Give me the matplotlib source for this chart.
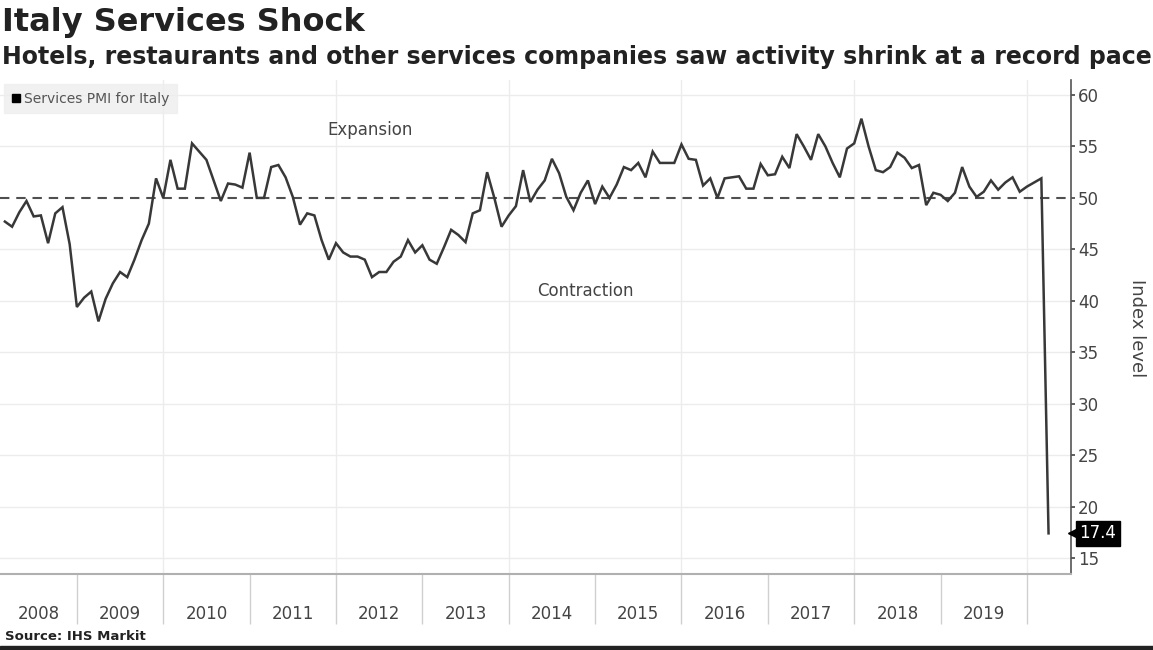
import matplotlib
matplotlib.use("Agg")
import matplotlib.pyplot as plt
from matplotlib.lines import Line2D
from matplotlib.patches import Rectangle
import matplotlib.transforms as mtransforms
import numpy as np

# ---------------- data ----------------
start_year = 2008
start_month = 2  # first observation: Feb 2008
pmi_values = [
    # 2008 (Feb-Dec)
    47.7, 47.2, 48.6, 49.7, 48.2, 48.3, 45.6, 48.5, 49.1, 45.5, 39.4,
    # 2009
    40.3, 40.9, 38.0, 40.2, 41.7, 42.8, 42.3, 44.0, 45.9, 47.5, 51.9, 50.0,
    # 2010
    53.7, 50.9, 50.9, 55.3, 54.5, 53.7, 51.7, 49.7, 51.4, 51.3, 51.0, 54.4,
    # 2011
    50.0, 50.0, 53.0, 53.2, 52.0, 50.1, 47.4, 48.5, 48.3, 45.9, 44.0, 45.6,
    # 2012
    44.7, 44.3, 44.3, 44.0, 42.3, 42.8, 42.8, 43.8, 44.3, 45.9, 44.7, 45.4,
    # 2013
    44.0, 43.6, 45.2, 46.9, 46.4, 45.7, 48.5, 48.8, 52.5, 50.0, 47.2, 48.3,
    # 2014
    49.2, 52.7, 49.6, 50.8, 51.7, 53.8, 52.4, 50.1, 48.8, 50.5, 51.7, 49.4,
    # 2015
    51.1, 50.0, 51.3, 53.0, 52.7, 53.4, 52.0, 54.5, 53.4, 53.4, 53.4, 55.2,
    # 2016
    53.8, 53.7, 51.2, 51.9, 50.0, 51.9, 52.0, 52.1, 50.9, 50.9, 53.3, 52.2,
    # 2017
    52.3, 54.0, 52.9, 56.2, 55.0, 53.7, 56.2, 55.0, 53.4, 52.0, 54.8, 55.3,
    # 2018
    57.7, 55.0, 52.7, 52.5, 53.0, 54.4, 53.9, 52.9, 53.2, 49.3, 50.5, 50.3,
    # 2019
    49.7, 50.5, 53.0, 51.1, 50.1, 50.6, 51.7, 50.8, 51.5, 52.0, 50.6, 51.1,
    # 2020 (Jan-Mar)
    51.5, 51.9, 17.4,
]
year_labels = ["2008", "2009", "2010", "2011", "2012", "2013",
               "2014", "2015", "2016", "2017", "2018", "2019"]
y_ticks = [15, 20, 25, 30, 35, 40, 45, 50, 55, 60]
grid_ticks = [15, 20, 25, 30, 35, 40, 45, 55, 60]
threshold = 50
last_label = "17.4"

# month-end positions in decimal years
n = len(pmi_values)
x = np.array([start_year + (start_month + i) / 12.0 for i in range(n)])

# ---------------- figure ----------------
W, H = 1153, 650
fig = plt.figure(figsize=(W / 100, H / 100), dpi=100)
fig.patch.set_facecolor("white")

ax_left, ax_right, ax_top, ax_bottom = 0, 1071, 80, 574
ax = fig.add_axes([ax_left / W, 1 - ax_bottom / H,
                   (ax_right - ax_left) / W, (ax_bottom - ax_top) / H])

x0, x1 = 2008.11, 2020.51
ax.set_xlim(x0, x1)
ax.set_ylim(13.45, 61.46)

# grid (no grid line under the dashed threshold)
ax.set_yticks(y_ticks)
for gy in grid_ticks:
    ax.axhline(gy, color="#ececec", lw=1.0, zorder=0)
for yr in range(2010, 2021, 2):
    ax.axvline(yr, color="#ececec", lw=1.0, zorder=0)

# threshold dashed line
ax.axhline(threshold, color="#4f4f4f", lw=1.5, dashes=(4.5, 3.3), zorder=1)

# series
ax.plot(x, pmi_values, color="#383838", lw=1.8, zorder=3,
        solid_joinstyle="miter")

# spines
for s in ["left", "top"]:
    ax.spines[s].set_visible(False)
ax.spines["right"].set_color("#555555")
ax.spines["right"].set_linewidth(1.2)
ax.spines["bottom"].set_color("#b0b0b0")
ax.spines["bottom"].set_linewidth(1.5)

# right y axis
ax.yaxis.tick_right()
ax.tick_params(axis="y", which="major", direction="out", length=3, width=1.2,
               color="#444444", labelsize=12, labelcolor="#444444", pad=2)

# x axis: separators at year boundaries, labels centred between
years = list(range(2008, 2021))
ax.set_xticks([y for y in years if y > x0])
ax.set_xticklabels([])
ax.tick_params(axis="x", which="major", direction="out", length=36, width=1.0,
               color="#d0d0d0")
label_pos = [(max(int(l), x0) + int(l) + 1) / 2.0 for l in year_labels]
ax.set_xticks(label_pos, minor=True)
ax.set_xticklabels(year_labels, minor=True)
ax.tick_params(axis="x", which="minor", length=0, pad=22, labelsize=12,
               labelcolor="#444444")

# annotations
ax.text(2012.39, 56.6, "Expansion", fontsize=12, color="#444444",
        ha="center", va="center")
ax.text(2014.89, 41.0, "Contraction", fontsize=12, color="#444444",
        ha="center", va="center")

# last value label
blend = mtransforms.blended_transform_factory(ax.transAxes, ax.transData)
ax.plot([1.003], [pmi_values[-1]], marker="<", ms=8, color="black",
        transform=blend, clip_on=False, zorder=5)
ax.text(1.008, pmi_values[-1], last_label, transform=blend, color="white",
        fontsize=12, ha="left", va="center", zorder=6,
        bbox=dict(boxstyle="square,pad=0.2", fc="black", ec="black"))

# legend
handle = Line2D([], [], marker="s", ms=6, color="black", lw=0)
leg = ax.legend([handle], ["Services PMI for Italy"], loc="upper left",
                bbox_to_anchor=(0.0, 1.0), frameon=True, fancybox=False,
                handlelength=0.6, handletextpad=0.3, borderpad=0.55,
                fontsize=10, labelcolor="#555555", borderaxespad=0.3)
leg.get_frame().set_facecolor("#eeeeee")
leg.get_frame().set_edgecolor("#eeeeee")

# right axis title
fig.text(1137 / W, 1 - 328 / H, "Index level", rotation=270, fontsize=13,
         color="#444444", ha="center", va="center")

# titles
fig.text(2 / W, 1 - 22 / H, "Italy Services Shock", fontsize=23,
         fontweight="bold", color="#222222", ha="left", va="center")
fig.text(2 / W, 1 - 57 / H,
         "Hotels, restaurants and other services companies saw activity shrink at a record pace",
         fontsize=17, fontweight="bold", color="#222222", ha="left", va="center")

# source
fig.text(5 / W, 1 - 636 / H, "Source: IHS Markit", fontsize=9.5,
         fontweight="bold", color="#222222", ha="left", va="center")

# bottom dark bar
fig.patches.append(Rectangle((0, 0), 1, 4 / H, transform=fig.transFigure,
                             color="#222222", zorder=10))

fig.savefig("out.png", dpi=100)
